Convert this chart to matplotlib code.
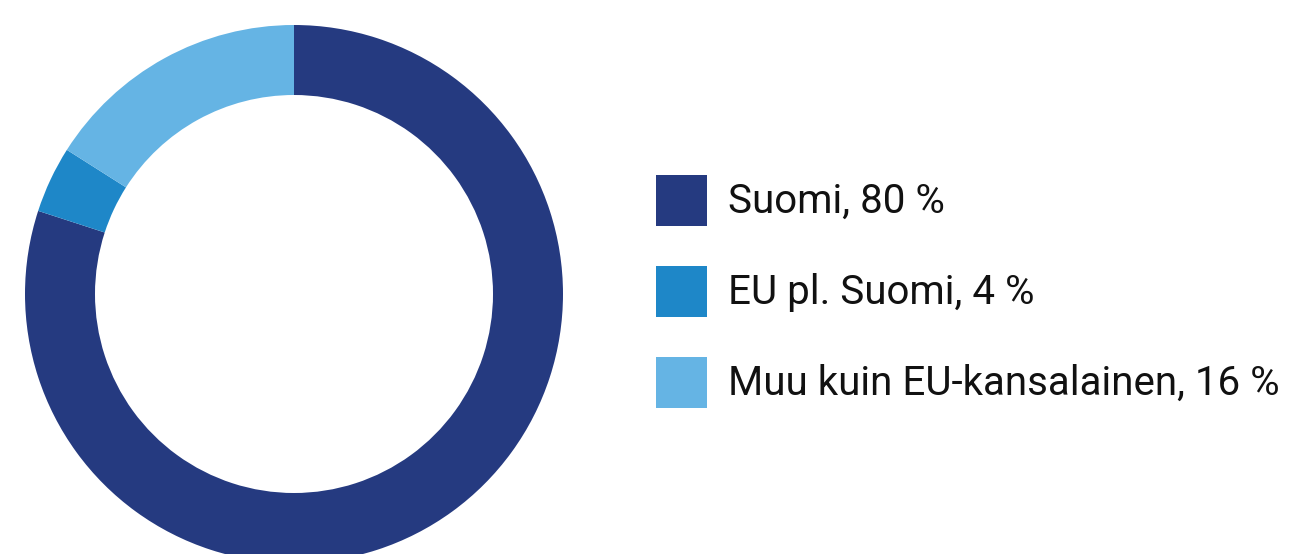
import matplotlib
matplotlib.use("Agg")
import matplotlib.pyplot as plt
from matplotlib.patches import Rectangle

labels = ["Suomi, 80 %", "EU pl. Suomi, 4 %", "Muu kuin EU-kansalainen, 16 %"]
values = [80, 4, 16]
colors = ["#253A80", "#1E87C8", "#65B4E4"]

W, H = 1292, 554
fig = plt.figure(figsize=(W / 100, H / 100), dpi=100)

cx, cy, R = 294, 294, 269
ax = fig.add_axes([(cx - R) / W, (H - cy - R) / H, 2 * R / W, 2 * R / H])
ax.pie(values, colors=colors, startangle=90, counterclock=False,
       radius=1.0, wedgeprops=dict(width=70 / R, linewidth=0))
ax.set_xlim(-1, 1)
ax.set_ylim(-1, 1)
ax.set_aspect("equal")
ax.axis("off")

sq_x, sq_w = 656, 51
sq_tops = [175, 266, 357]
baselines = [213, 304, 395]
for lab, col, top, base in zip(labels, colors, sq_tops, baselines):
    fig.patches.append(Rectangle((sq_x / W, (H - top - sq_w) / H), sq_w / W, sq_w / H,
                                 transform=fig.transFigure, color=col, linewidth=0))
    fig.text(728 / W, (H - base) / H, lab, fontsize=29, family="Roboto",
             color="#111111", va="baseline", ha="left")

fig.savefig("out.png", dpi=100)
